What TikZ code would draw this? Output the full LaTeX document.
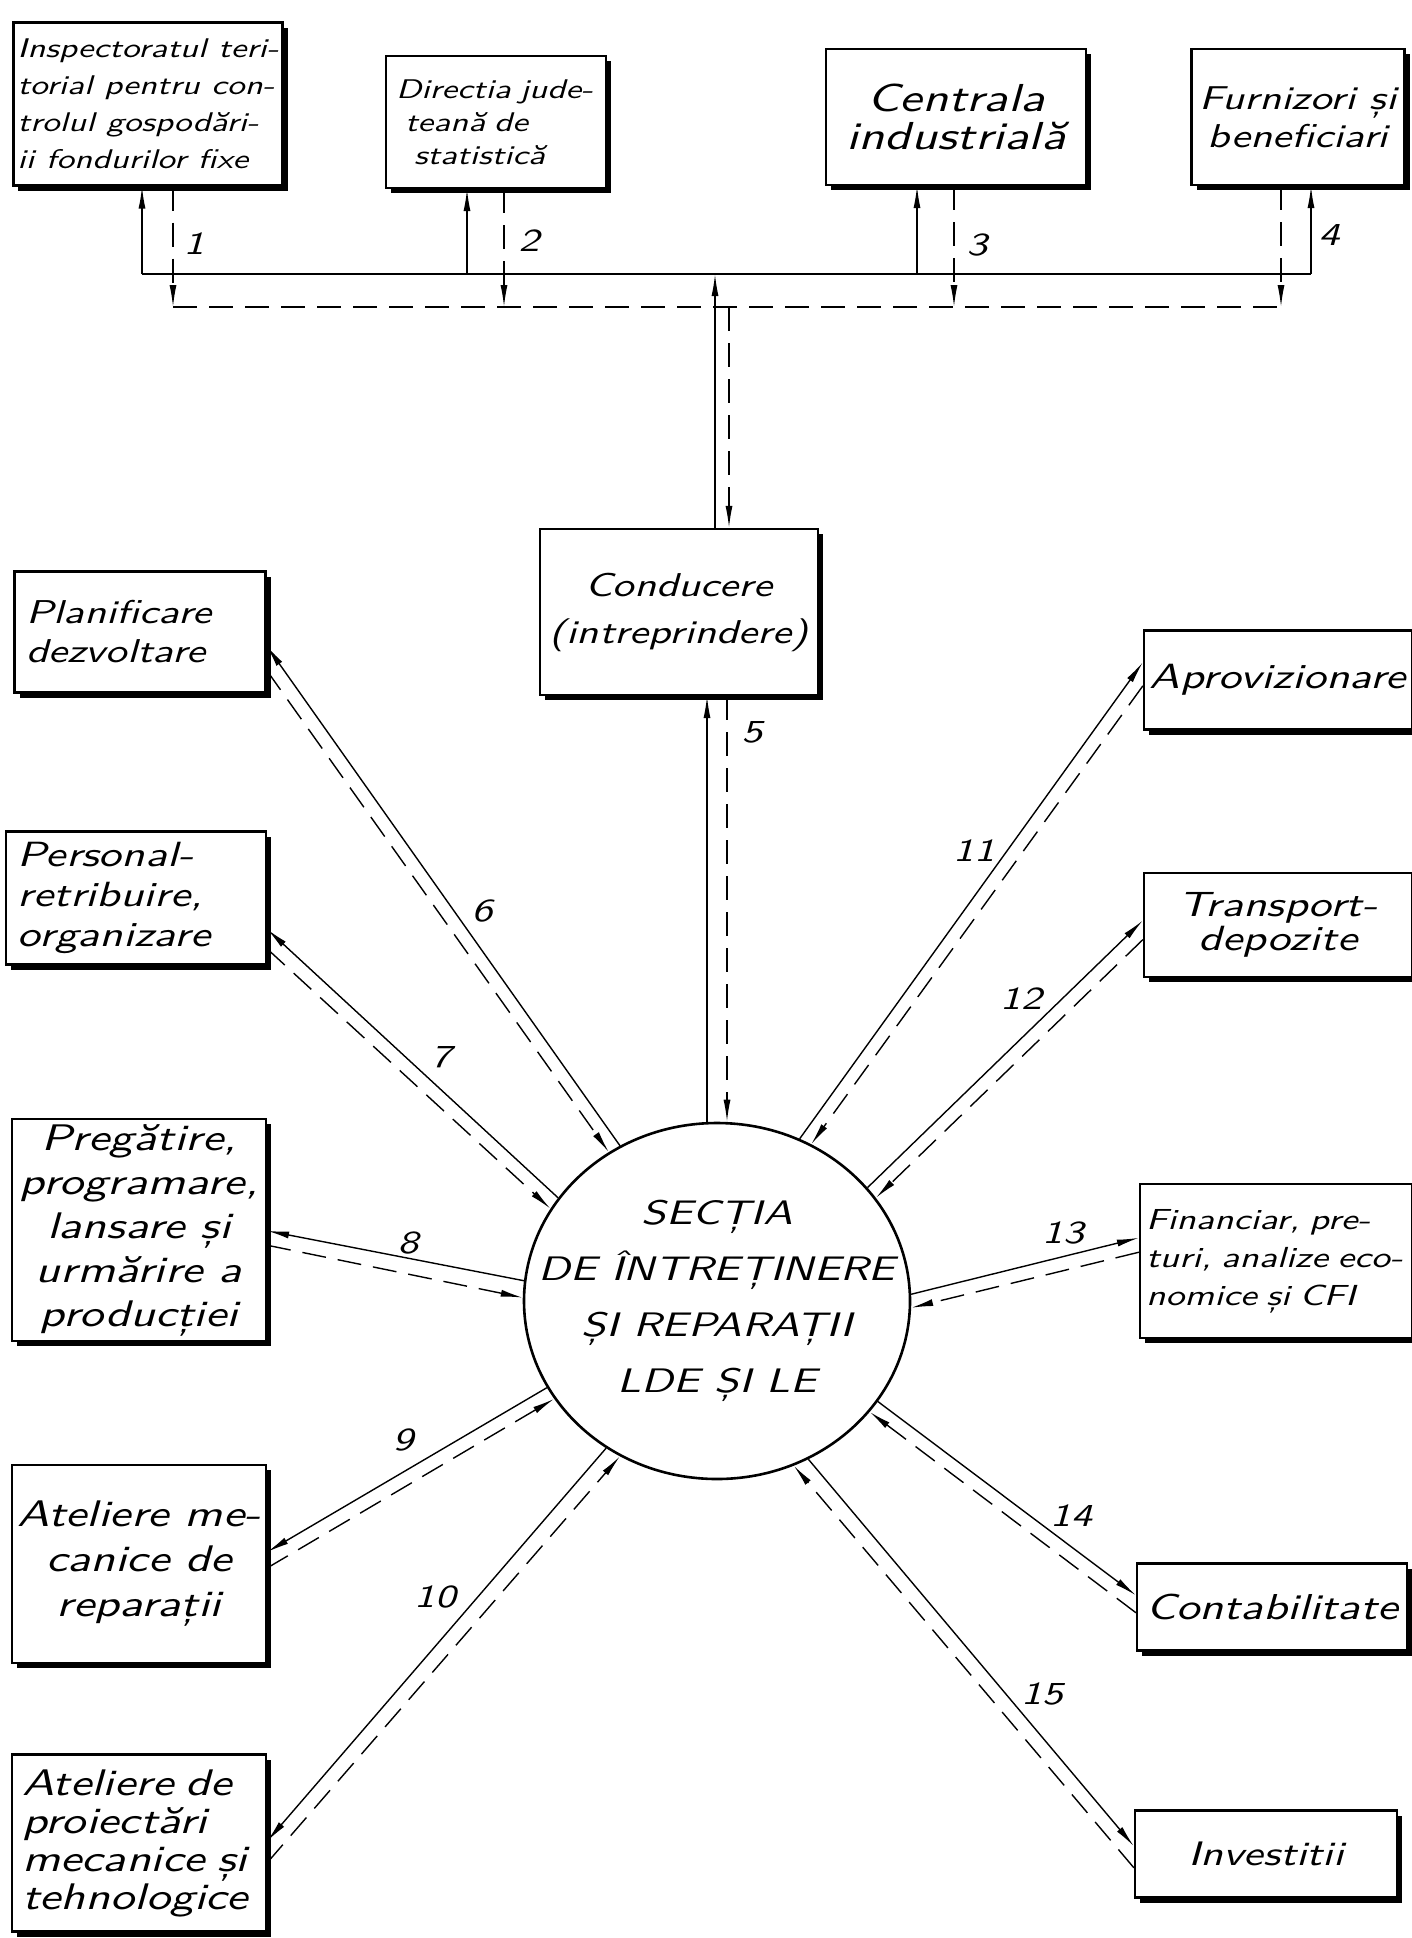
\documentclass[tikz,border=0pt]{standalone}
\usepackage{fontspec}
\newfontfamily\handfont{lmsans10-oblique.otf}[FakeStretch=1.3]
\usetikzlibrary{arrows.meta,shapes.geometric,shadows}

\begin{document}
\begin{tikzpicture}[x=0.5pt,y=-0.5pt,
  hand/.style 2 args={font=\handfont\fontsize{#1}{#2}\selectfont},
  box/.style={draw,line width=1.1pt,fill=white,inner sep=2pt,hand={18}{22},
    drop shadow={shadow xshift=2.5pt,shadow yshift=-2.5pt,fill=black,opacity=1}},
  outflow/.style={line width=0.7pt,-{Latex[length=11pt,width=3.5pt]}},
  inflow/.style={line width=0.7pt,dash pattern=on 12pt off 6pt,-{Latex[length=11pt,width=3.5pt]}},
  num/.style={hand={16}{20}}]
\useasboundingbox (0,0) rectangle (1412,1938);

\node[box,minimum width=133.5pt,minimum height=81.5pt,align=left,hand={13.5}{18.5}] (T1) at (148,104) {Inspectoratul teri-\\torial pentru con-\\trolul gospodări-\\ii fondurilor fixe};
\node[box,minimum width=110pt,minimum height=66pt,text width=100pt,align=left,hand={13.5}{16.5}] (T2) at (496,122) {Directia jude-\\\ teană de\\\ \ statistică};
\node[box,minimum width=130pt,minimum height=68pt,align=center,hand={19.5}{19}] (T3) at (956,117) {Centrala\\industrială};
\node[box,minimum width=106.5pt,minimum height=68pt,align=center,hand={16.5}{19}] (T4) at (1298,117) {Furnizori și\\beneficiari};
\node[box,minimum width=139pt,minimum height=83pt,align=center,hand={16.5}{23.5}] (C0) at (679,612) {Conducere\\(intreprindere)};

\node[box,minimum width=125.5pt,minimum height=60.5pt,text width=114pt,align=left,hand={16.5}{19.5}] (L1) at (140,632) {Planificare\\dezvoltare};
\node[box,minimum width=130pt,minimum height=66.5pt,text width=118pt,align=left,hand={17.5}{20}] (L2) at (136,898) {Personal-\\retribuire,\\organizare};
\node[box,minimum width=127pt,minimum height=111pt,align=center,hand={18.5}{22}] (L3) at (139,1230) {Pregătire,\\programare,\\lansare și\\urmărire a\\producției};
\node[box,minimum width=127pt,minimum height=99pt,align=center,hand={18.5}{22.5}] (L4) at (139,1564) {Ateliere me-\\canice de\\reparații};
\node[box,minimum width=127pt,minimum height=88.5pt,text width=117pt,align=left,hand={18.5}{19}] (L5) at (139,1843) {Ateliere de\\proiectări\\mecanice și\\tehnologice};

\node[box,minimum width=134pt,minimum height=49.5pt,hand={17.5}{22}] (R1) at (1278,680) {Aprovizionare};
\node[box,minimum width=134pt,minimum height=52pt,align=center,hand={17.5}{17}] (R2) at (1278,925) {Transport-\\depozite};
\node[box,minimum width=136pt,minimum height=77pt,text width=130pt,align=left,hand={14.5}{19}] (R3) at (1276,1261) {Financiar, pre-\\turi, analize eco-\\nomice și CFI};
\node[box,minimum width=135pt,minimum height=43.5pt,hand={18}{22}] (R4) at (1272,1607) {Contabilitate};
\node[box,minimum width=131pt,minimum height=43.5pt,hand={17}{22}] (R5) at (1266,1854) {Investitii};

\node[draw,ellipse,line width=1.3pt,inner sep=0pt,minimum width=193pt,minimum height=178pt,
  label={[hand={17}{28},align=center]center:SECȚIA\\DE ÎNTREȚINERE\\ȘI REPARAȚII\\LDE ȘI LE}] (S) at (717,1301) {};

\coordinate (sa) at (142,274);
\coordinate (sb) at (1311,274);
\coordinate (da) at (173,307);
\coordinate (db) at (1281,307);
\coordinate (s2) at (467,274);
\coordinate (d2) at (504,307);
\coordinate (s3) at (917,274);
\coordinate (d3) at (954,307);
\coordinate (s0) at (715,274);
\coordinate (d0) at (729,307);

\draw[line width=0.7pt] (sa) -- (sb);
\draw[line width=0.7pt,dash pattern=on 12pt off 6pt] (da) -- (db);

\draw[outflow] (sa) -- (sa |- T1.south);
\draw[inflow] (da |- T1.south) -- (da);
\draw[outflow] (s2) -- (s2 |- T2.south);
\draw[inflow] (d2 |- T2.south) -- (d2);
\draw[outflow] (s3) -- (s3 |- T3.south);
\draw[inflow] (d3 |- T3.south) -- (d3);
\draw[outflow] (sb) -- (sb |- T4.south);
\draw[inflow] (db |- T4.south) -- (db);
\draw[outflow] ([xshift=18pt]C0.north) -- (s0);
\draw[inflow] (d0) -- ([xshift=25pt]C0.north);

\draw[outflow] ([xshift=-5pt]S.north) -- ([xshift=14pt]C0.south);
\draw[inflow] ([xshift=24pt]C0.south) -- ([xshift=5pt]S.north);

\draw[outflow] (S.122.5) -- ([yshift=-6.9pt]L1.east);
\draw[inflow] ([yshift=-19.1pt]L1.east) -- (S.126.9);
\draw[outflow] (S.147.1) -- ([yshift=-15.6pt]L2.east);
\draw[inflow] ([yshift=-25.4pt]L2.east) -- (S.151.5);
\draw[outflow] (S.174.9) -- ([yshift=-0.4pt]L3.east);
\draw[inflow] ([yshift=-7.6pt]L3.east) -- (S.179.1);
\draw[outflow] (S.207) -- ([yshift=6pt]L4.east);
\draw[inflow] ([yshift=-2pt]L4.east) -- (S.211.2);
\draw[outflow] (S.233.6) -- ([yshift=0.9pt]L5.east);
\draw[inflow] ([yshift=-9.9pt]L5.east) -- (S.238);

\draw[outflow] (S.63.9) -- ([yshift=8.9pt]R1.west);
\draw[inflow] ([yshift=-2.9pt]R1.west) -- (S.59.5);
\draw[outflow] (S.37.9) -- ([yshift=2.3pt]R2.west);
\draw[inflow] ([yshift=-7.3pt]R2.west) -- (S.33.5);
\draw[outflow] (S.2.1) -- ([yshift=11.6pt]R3.west);
\draw[inflow] ([yshift=4.4pt]R3.west) -- (S.-2.1);
\draw[outflow] (S.-32.4) -- ([yshift=5.85pt]R4.west);
\draw[inflow] ([yshift=-2.85pt]R4.west) -- (S.-36.8);
\draw[outflow] (S.-60.8) -- ([yshift=3.9pt]R5.west);
\draw[inflow] ([yshift=-6.9pt]R5.west) -- (S.-65.2);

\node[num] (N1) at (194,244) {1};
\node[num] (N2) at (529,241) {2};
\node[num] (N3) at (977,245) {3};
\node[num] (N4) at (1329,235) {4};
\node[num] (N5) at (752,732) {5};
\node[num] (N6) at (482,911) {6};
\node[num] (N7) at (441,1057) {7};
\node[num] (N8) at (408,1243) {8};
\node[num] (N9) at (403,1440) {9};
\node[num] (N10) at (435,1597) {10};
\node[num] (N11) at (974,851) {11};
\node[num] (N12) at (1021,999) {12};
\node[num] (N13) at (1063,1233) {13};
\node[num] (N14) at (1071,1516) {14};
\node[num] (N15) at (1042,1694) {15};
\end{tikzpicture}
\end{document}
